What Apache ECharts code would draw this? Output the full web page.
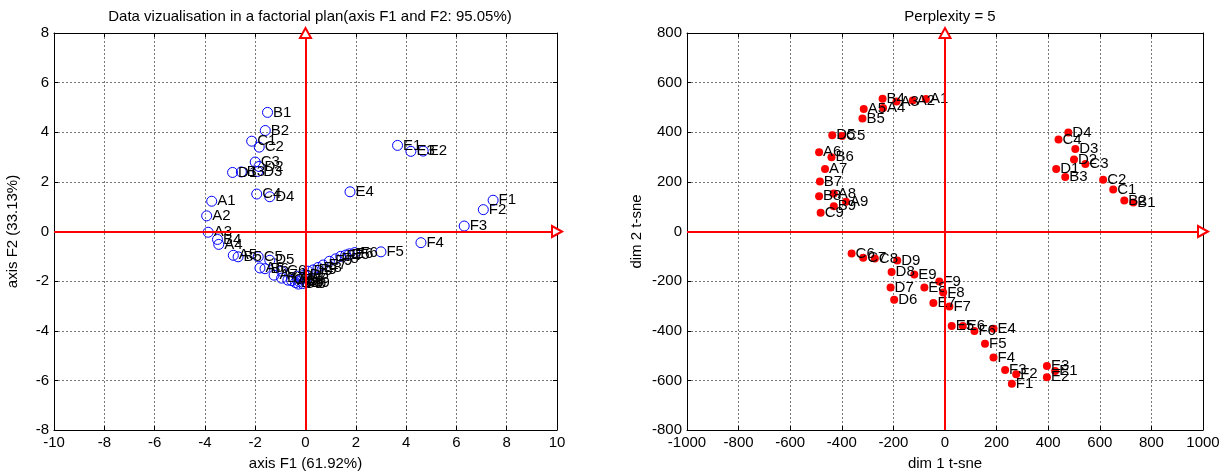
<!DOCTYPE html>
<html>
<head>
<meta charset="utf-8">
<script src="https://cdn.jsdelivr.net/npm/echarts@6/dist/echarts.min.js"></script>
<style>
  html, body { margin: 0; padding: 0; background: #fff; }
  #chart { width: 1227px; height: 476px; }
</style>
</head>
<body>
<div id="chart"></div>
<script>
// point labels (same order in both plots)
const labels = [
  "A1", "A2", "A3", "A4", "A5", "A6", "A7", "A8", "A9",
  "B1", "B2", "B3", "B4", "B5", "B6", "B7", "B8", "B9",
  "C1", "C2", "C3", "C4", "C5", "C6", "C7", "C8", "C9",
  "D1", "D2", "D3", "D4", "D5", "D6", "D7", "D8", "D9",
  "E1", "E2", "E3", "E4", "E5", "E6", "E7", "E8", "E9",
  "F1", "F2", "F3", "F4", "F5", "F6", "F7", "F8", "F9"
];

// factorial plan coordinates
const axisF1 = [
  -3.73, -3.93, -3.87, -3.45, -2.87, -1.81, -1.25, -0.55, -0.12,
  -1.51, -1.6, -2.55, -3.5, -2.68, -1.61, -0.95, -0.4, 0.02,
  -2.14, -1.84, -2.0, -1.94, -1.88, -0.95, -0.7, -0.25, -0.28,
  -2.9, -1.85, -1.9, -1.42, -1.42, -0.35, -0.15, -0.05, 0.1,
  3.66, 4.68, 4.19, 1.77, 1.6, 1.75, 0.7, 0.5, 0.3,
  7.46, 7.07, 6.31, 4.59, 3.0, 1.96, 1.4, 1.2, 0.95
];
const axisF2 = [
  1.22, 0.63, -0.03, -0.52, -0.96, -1.47, -1.76, -1.98, -2.1,
  4.8, 4.07, 2.4, -0.32, -1.02, -1.5, -1.88, -2.06, -2.05,
  3.64, 3.4, 2.8, 1.51, -1.02, -1.6, -1.96, -2.02, -2.12,
  2.38, 2.62, 2.42, 1.4, -1.16, -1.8, -1.9, -1.75, -1.6,
  3.47, 3.24, 3.23, 1.6, -0.95, -0.9, -1.35, -1.45, -1.55,
  1.26, 0.88, 0.22, -0.45, -0.82, -0.85, -1.0, -1.1, -1.2
];

// t-sne coordinates
const dim1 = [
  -74, -125, -188, -240, -315, -488, -465, -431, -384,
  730, 695, 466, -242, -320, -440, -485, -488, -431,
  652, 613, 544, 440, -399, -362, -317, -272, -482,
  431, 500, 505, 478, -437, -197, -211, -207, -185,
  427, 395, 395, 188, 26, 69, -45, -80, -119,
  259, 276, 233, 188, 155, 114, 17, -7, -22
];
const dim2 = [
  534, 528, 524, 498, 494, 319, 252, 153, 120,
  117, 125, 220, 535, 455, 299, 202, 142, 102,
  169, 209, 272, 371, 385, -89, -106, -109, 76,
  252, 290, 332, 399, 388, -275, -226, -163, -117,
  -562, -587, -542, -392, -381, -381, -288, -226, -173,
  -614, -575, -558, -508, -452, -401, -302, -246, -202
];

const pcaData = labels.map((n, i) => ({ name: n, value: [axisF1[i], axisF2[i]] }));
const tsneData = labels.map((n, i) => ({ name: n, value: [dim1[i], dim2[i]] }));

const font = "'Liberation Sans', Arial, sans-serif";

function mainX(grid, min, max, step, name) {
  return {
    gridIndex: grid, type: "value", min: min, max: max, interval: step,
    name: name, nameLocation: "middle", nameGap: 26,
    nameTextStyle: { color: "#000", fontSize: 15, fontFamily: font },
    axisLine: { onZero: false, lineStyle: { color: "#000", width: 1 } },
    axisTick: { inside: true, length: 4, lineStyle: { color: "#000" } },
    axisLabel: { color: "#000", fontSize: 15, fontFamily: font, margin: 5,
      formatter: v => String(v) },
    splitLine: { show: true, lineStyle: { color: "#777", type: [2, 2], width: 1 } }
  };
}
function mainY(grid, min, max, step, name, gap) {
  return {
    gridIndex: grid, type: "value", min: min, max: max, interval: step,
    name: name, nameLocation: "middle", nameGap: gap,
    nameTextStyle: { color: "#000", fontSize: 15, fontFamily: font },
    axisLine: { onZero: false, lineStyle: { color: "#000", width: 1 } },
    axisTick: { inside: true, length: 4, lineStyle: { color: "#000" } },
    axisLabel: { color: "#000", fontSize: 15, fontFamily: font, margin: 5,
      formatter: v => String(v) },
    splitLine: { show: true, lineStyle: { color: "#777", type: [2, 2], width: 1 } }
  };
}
function boxAxis(grid, min, max, step, pos) {
  return {
    gridIndex: grid, type: "value", min: min, max: max, interval: step, position: pos,
    axisLine: { onZero: false, lineStyle: { color: "#000", width: 1 } },
    axisTick: { inside: true, length: 4, lineStyle: { color: "#000" } },
    axisLabel: { show: false },
    splitLine: { show: false }
  };
}

function zeroLines(xmin, xmax, ymin, ymax) {
  return {
    silent: true,
    symbol: ["none", "emptyTriangle"],
    symbolSize: [11, 10],
    label: { show: false },
    lineStyle: { color: "#ff0000", width: 2, type: "solid" },
    emphasis: { disabled: true },
    data: [
      [{ coord: [0, ymin] }, { coord: [0, ymax] }],
      [{ coord: [xmin, 0] }, { coord: [xmax, 0] }]
    ]
  };
}

const chart = echarts.init(document.getElementById("chart"));
chart.setOption({
  animation: false,
  backgroundColor: "#fff",
  title: [
    { text: "Data vizualisation in a factorial plan(axis F1 and F2: 95.05%)", left: 305, top: 4, textAlign: "center",
      textStyle: { fontSize: 15, fontWeight: "normal", color: "#000", fontFamily: font } },
    { text: "Perplexity = 5", left: 945, top: 4, textAlign: "center",
      textStyle: { fontSize: 15, fontWeight: "normal", color: "#000", fontFamily: font } }
  ],
  grid: [
    { left: 54, top: 33, width: 503, height: 400 },
    { left: 687, top: 33, width: 516, height: 401 }
  ],
  xAxis: [
    mainX(0, -10, 10, 2, "axis F1 (61.92%)"),
    mainX(1, -1000, 1000, 200, "dim 1 t-sne"),
    boxAxis(0, -10, 10, 2, "top"),
    boxAxis(1, -1000, 1000, 200, "top")
  ],
  yAxis: [
    mainY(0, -8, 8, 2, "axis F2 (33.13%)", 34),
    mainY(1, -800, 800, 200, "dim 2 t-sne", 43),
    boxAxis(0, -8, 8, 2, "right"),
    boxAxis(1, -800, 800, 200, "right")
  ],
  series: [
    {
      type: "scatter", xAxisIndex: 0, yAxisIndex: 0,
      data: pcaData,
      symbol: "circle", symbolSize: 10,
      itemStyle: { color: "rgba(0,0,0,0)", borderColor: "#0000ff", borderWidth: 1, opacity: 1 },
      label: { show: true, position: "right", distance: 0, formatter: "{b}",
        color: "#000", fontSize: 15, fontFamily: font },
      emphasis: { disabled: true },
      markLine: zeroLines(-10, 10, -8, 8)
    },
    {
      type: "scatter", xAxisIndex: 1, yAxisIndex: 1,
      data: tsneData,
      symbol: "circle", symbolSize: 8,
      itemStyle: { color: "#ff0000", opacity: 1 },
      label: { show: true, position: "right", distance: 0, formatter: "{b}",
        color: "#000", fontSize: 15, fontFamily: font },
      emphasis: { disabled: true },
      markLine: zeroLines(-1000, 1000, -800, 800)
    }
  ]
});
</script>
</body>
</html>
